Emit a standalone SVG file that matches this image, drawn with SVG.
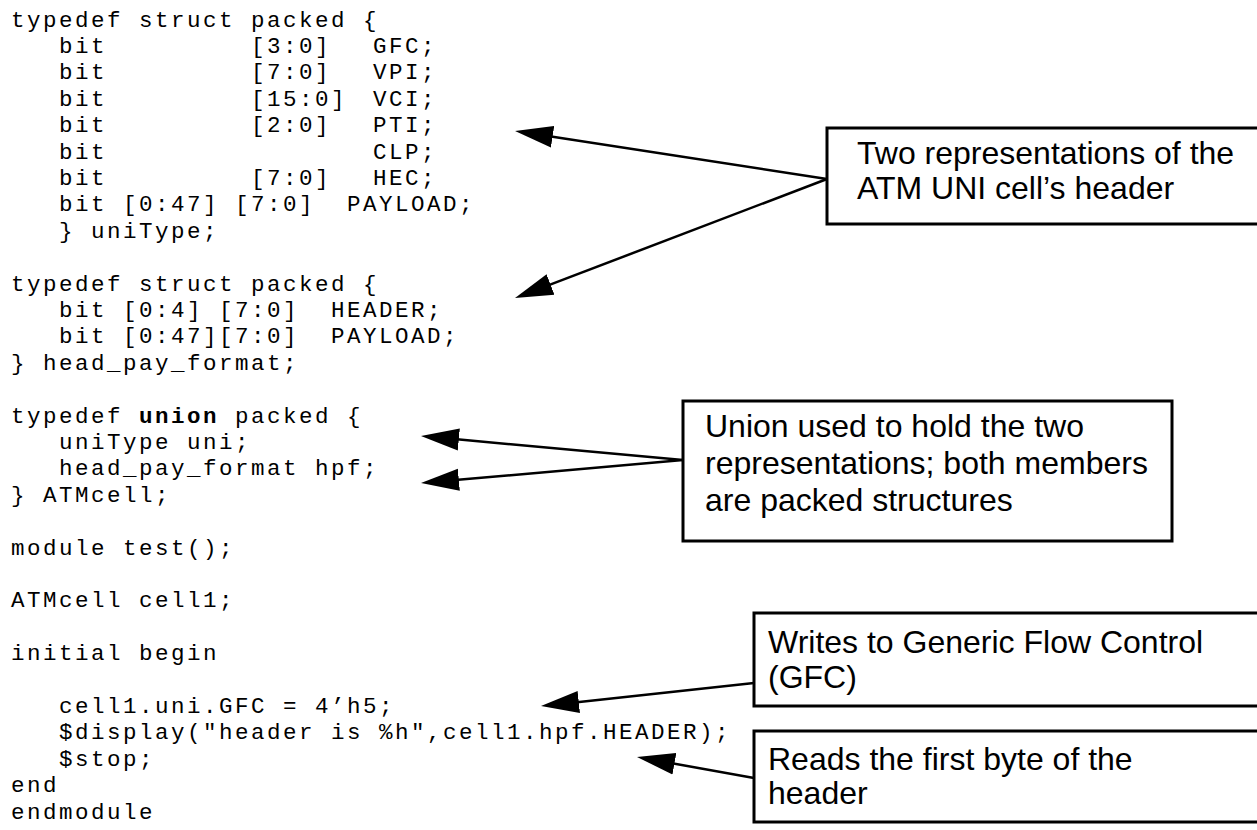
<svg xmlns="http://www.w3.org/2000/svg" width="1257" height="830" viewBox="0 0 1257 830">
<style>
.code{font-family:"Liberation Mono","Courier New",monospace;font-size:22.5px;letter-spacing:2.5px;fill:#000;white-space:pre}
.b{font-weight:bold}
.note{font-family:"Liberation Sans",Arial,Helvetica,sans-serif;font-size:32px;fill:#000}
.box{fill:#fff;stroke:#000;stroke-width:3}
.conn{stroke:#000;stroke-width:2.5;fill:none;marker-end:url(#ah)}
</style>
<defs>
<marker id="ah" markerUnits="userSpaceOnUse" viewBox="0 -12 40 24" markerWidth="40" markerHeight="24" refX="18" refY="0" orient="auto">
<path d="M0,-11 L38,0 L0,11 z" fill="#000"/>
</marker>
</defs>
<rect width="1257" height="830" fill="#fff"/>
<g id="code">
<text class="code" x="11" y="26.5">typedef struct packed {</text>
<text class="code" y="52.9"><tspan x="59">bit</tspan> <tspan x="251">[3:0]</tspan> <tspan x="373">GFC;</tspan></text>
<text class="code" y="79.3"><tspan x="59">bit</tspan> <tspan x="251">[7:0]</tspan> <tspan x="373">VPI;</tspan></text>
<text class="code" y="105.7"><tspan x="59">bit</tspan> <tspan x="251">[15:0]</tspan> <tspan x="373">VCI;</tspan></text>
<text class="code" y="132.1"><tspan x="59">bit</tspan> <tspan x="251">[2:0]</tspan> <tspan x="373">PTI;</tspan></text>
<text class="code" y="158.5"><tspan x="59">bit</tspan> <tspan x="373">CLP;</tspan></text>
<text class="code" y="184.9"><tspan x="59">bit</tspan> <tspan x="251">[7:0]</tspan> <tspan x="373">HEC;</tspan></text>
<text class="code" x="11" y="211.3">   bit [0:47] [7:0]  PAYLOAD;</text>
<text class="code" x="11" y="237.7">   } uniType;</text>
<text class="code" x="11" y="290.5">typedef struct packed {</text>
<text class="code" x="11" y="316.9">   bit [0:4] [7:0]  HEADER;</text>
<text class="code" x="11" y="343.3">   bit [0:47][7:0]  PAYLOAD;</text>
<text class="code" x="11" y="369.7">} head_pay_format;</text>
<text class="code" x="11" y="422.5">typedef <tspan class="b">union</tspan> packed {</text>
<text class="code" x="11" y="448.9">   uniType uni;</text>
<text class="code" x="11" y="475.3">   head_pay_format hpf;</text>
<text class="code" x="11" y="501.7">} ATMcell;</text>
<text class="code" x="11" y="554.5">module test();</text>
<text class="code" x="11" y="607.3">ATMcell cell1;</text>
<text class="code" x="11" y="660.1">initial begin</text>
<text class="code" x="11" y="712.9">   cell1.uni.GFC = 4’h5;</text>
<text class="code" x="11" y="739.3">   $display("header is %h",cell1.hpf.HEADER);</text>
<text class="code" x="11" y="765.7">   $stop;</text>
<text class="code" x="11" y="792.1">end</text>
<text class="code" x="11" y="818.5">endmodule</text>
</g>
<g id="connectors">
<line class="conn" x1="827" y1="179" x2="534.8" y2="134.0"/>
<line class="conn" x1="827" y1="179" x2="533.7" y2="290.9"/>
<line class="conn" x1="683" y1="460" x2="440.9" y2="437.8"/>
<line class="conn" x1="683" y1="460" x2="440.9" y2="481.3"/>
<line class="conn" x1="754" y1="683" x2="560.9" y2="703.9"/>
<line class="conn" x1="754" y1="778" x2="656.7" y2="760.5"/>
</g>
<g id="note-atm-header">
<rect class="box" x="827" y="128" width="440" height="96"/>
<text class="note" x="857" y="164">Two representations of the</text>
<text class="note" x="857" y="199">ATM UNI cell’s header</text>
</g>
<g id="note-union">
<rect class="box" x="683" y="401" width="489" height="140"/>
<text class="note" x="705" y="437">Union used to hold the two</text>
<text class="note" x="705" y="474">representations; both members</text>
<text class="note" x="705" y="511">are packed structures</text>
</g>
<g id="note-writes">
<rect class="box" x="754" y="613" width="510" height="93"/>
<text class="note" x="768" y="653">Writes to Generic Flow Control</text>
<text class="note" x="768" y="688">(GFC)</text>
</g>
<g id="note-reads">
<rect class="box" x="754" y="731" width="510" height="91"/>
<text class="note" x="768" y="770">Reads the first byte of the</text>
<text class="note" x="768" y="804">header</text>
</g>
</svg>
